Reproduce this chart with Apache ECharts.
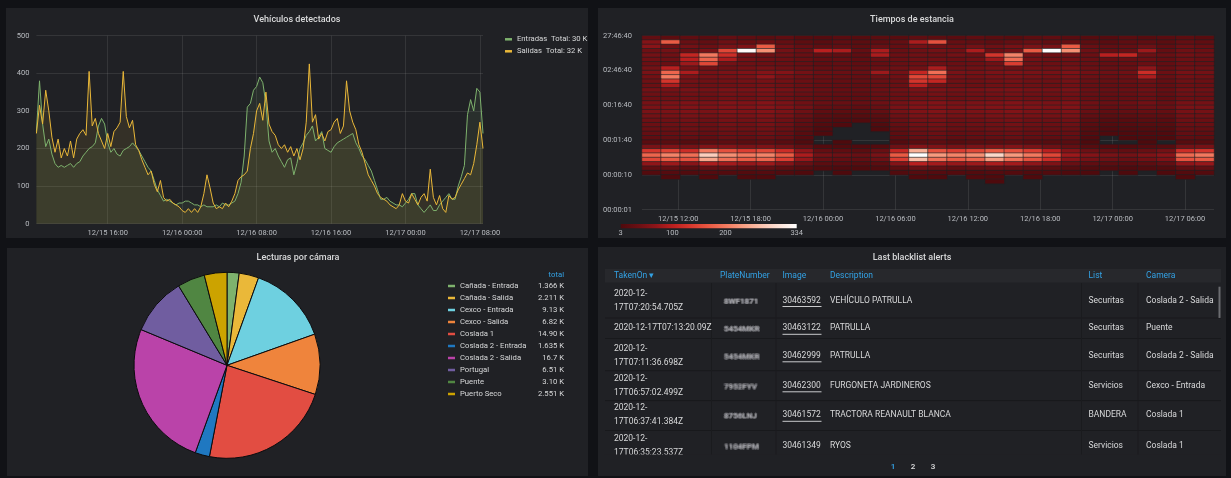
<!DOCTYPE html>
<html><head><meta charset="utf-8">
<script src="https://cdn.jsdelivr.net/npm/echarts/dist/echarts.min.js"></script>
<style>
html,body{margin:0;padding:0;background:#111216;width:1231px;height:478px;overflow:hidden}
.p{position:absolute;background:#202125}
#c{position:absolute;left:0;top:0;width:1231px;height:478px}
</style></head><body>
<div class="p" style="left:6px;top:8px;width:582px;height:230px"></div>
<div class="p" style="left:598px;top:8px;width:628px;height:230px"></div>
<div class="p" style="left:7px;top:248px;width:581px;height:228px"></div>
<div class="p" style="left:598px;top:247px;width:628px;height:229px"></div>
<div id="c"></div>
<script>
// ---------------- DATA ----------------
// Vehículos detectados: 20-minute samples from 12/15 08:20 to 12/17 08:20
const entradas = [
  // 12/15
  245,380,265,205,225,185,160,150,155,150,155,160,150,160,165,180,190,200,205,215,260,280,265,215,
  190,200,185,180,195,200,205,215,205,195,180,165,150,140,115,90,75,60,65,60,55,50,55,
  // 12/16
  55,60,60,55,50,50,45,50,45,45,45,50,45,55,50,50,55,60,80,110,180,310,320,355,
  365,390,375,320,220,190,200,180,165,150,170,175,130,160,200,215,235,245,260,220,230,245,200,195,
  190,205,215,220,225,230,235,240,215,200,180,170,155,140,115,90,65,65,70,60,55,50,50,45,
  // 12/17
  55,65,80,80,50,40,30,40,50,35,35,50,60,70,80,65,65,100,125,155,290,330,300,360,350,240
];
const salidas = [
  // 12/15
  240,315,265,355,300,230,190,225,175,200,180,220,175,225,240,250,235,405,260,280,240,220,200,240,
  205,245,255,270,405,285,255,275,210,195,170,150,130,140,105,85,115,70,60,65,55,50,45,
  // 12/16
  35,30,40,30,40,30,45,80,130,95,55,40,45,40,55,45,60,80,115,125,130,140,200,240,
  300,320,275,350,265,245,235,210,200,210,190,205,180,200,170,200,270,425,270,290,225,240,220,245,
  250,270,280,240,260,380,300,270,250,210,190,160,130,115,100,80,70,65,60,50,45,40,50,80,
  // 12/17
  60,55,80,65,50,70,80,60,145,70,50,75,40,30,75,65,70,90,105,120,135,130,160,210,270,200
];
const lineNames = ['Entradas', 'Salidas'];
const lineTotals = ['30 K', '32 K'];
const lineYTicks = [0, 100, 200, 300, 400, 500];

// Tiempos de estancia: 30 time buckets x duration buckets (8 per decade, log scale),
// rows listed from top (bucket 39: ~75000-100000 s) down to bucket 6 (~5.6-10 s)
const heatCounts = [
  [28,22,25,18,30,24,20,26,15,12, 18,14,20,16,24,22,18,26,20,15, 22,25,18,14,12,20,15,18,22,16],
  [60,170,35,28,40,32,38,30,22,18, 25,20,24,30,90,160,32,28,26,30, 35,28,30,22,18,24,26,20,30,25],
  [65,40,45,38,50,55,170,42,30,25, 28,22,35,30,45,40,38,45,40,48, 52,50,170,35,28,30,40,26,38,32],
  [40,45,38,50,150,330,220,45,38,100, 90,30,90,35,40,45,42,90,38,45, 170,334,220,40,32,35,80,30,42,38],
  [45,42,110,200,120,48,42,40,35,30, 28,25,90,38,42,40,45,40,130,210, 48,42,45,38,100,110,40,35,44,40],
  [42,40,100,180,90,45,40,38,33,28, 30,26,35,36,40,42,38,42,80,190, 45,40,42,36,32,34,38,30,40,36],
  [38,36,80,150,45,40,38,36,32,26, 28,24,30,34,38,40,36,38,42,140, 40,38,40,34,30,32,36,28,38,34],
  [45,100,48,42,40,44,46,40,36,30, 32,28,38,40,44,90,40,42,45,40, 44,42,46,38,34,36,70,32,42,40],
  [50,180,90,48,52,55,60,60,45,38, 36,34,80,45,110,190,50,48,52,55, 50,48,55,44,40,42,120,38,48,45],
  [44,200,52,46,48,50,70,48,40,35, 33,30,40,42,150,150,46,44,48,50, 46,44,50,40,36,38,90,34,44,42],
  [40,130,45,42,44,46,48,44,38,32, 30,28,36,38,130,110,42,40,44,46, 42,40,46,36,33,35,40,30,40,38],
  [38,90,42,40,42,44,46,42,36,30, 28,26,34,36,100,45,40,38,42,44, 40,38,44,34,30,32,38,28,38,36],
  [45,48,50,46,52,50,55,48,40,34, 32,30,38,42,50,52,46,48,50,52, 48,46,50,38,34,36,42,32,44,42],
  [40,42,44,40,46,44,48,42,35,30, 28,26,34,38,44,46,40,42,44,46, 42,40,44,34,30,32,38,28,40,38],
  [38,40,42,38,44,42,46,40,33,28, 26,24,32,36,42,44,38,40,42,44, 40,38,42,32,28,30,36,26,38,36],
  [48,52,55,50,58,55,60,52,42,36, 34,32,40,46,55,58,50,52,55,58, 52,50,55,42,36,38,44,34,48,46],
  [52,55,58,54,60,58,62,55,45,30, 28,26,35,50,58,60,54,56,58,60, 56,54,58,40,32,34,40,36,52,50],
  [50,52,55,50,58,55,60,52,40,24, 22,20,28,46,55,58,50,52,55,58, 52,50,55,34,26,28,32,30,48,46],
  [45,48,50,46,52,50,55,48,34,18, 15,14,20,40,50,52,46,48,50,52, 48,46,50,28,20,22,26,24,44,42],
  [40,42,45,40,48,45,50,42,28,14, 10,8,14,35,45,48,40,42,45,48, 42,40,44,22,14,16,20,18,40,38],
  [38,40,42,38,45,42,48,40,24,10, 6,0,8,30,42,45,38,40,42,45, 40,38,40,18,10,12,15,14,36,35],
  [35,36,40,35,42,40,44,36,20,6, 0,0,5,26,38,42,35,36,40,42, 36,34,36,14,6,8,10,10,32,30],
  [30,32,35,30,38,35,40,32,16,4, 0,0,0,22,34,38,30,32,35,38, 32,30,32,10,4,5,6,6,28,26],
  [26,28,30,26,34,30,35,28,12,0, 0,0,0,18,30,34,26,28,30,34, 28,26,28,6,0,3,4,4,24,22],
  [18,20,15,22,24,20,25,18,8,0, 4,0,0,12,20,24,16,20,22,24, 18,16,18,4,0,0,3,0,16,15],
  [50,55,48,58,60,52,55,45,28,10, 8,6,10,40,60,55,48,52,55,58, 50,40,30,15,10,8,12,14,45,48],
  [130,145,120,200,160,140,150,120,70,30, 25,20,35,110,250,160,140,150,170,160, 140,100,60,40,30,28,35,45,120,130],
  [180,210,190,280,220,200,210,170,90,45, 40,35,50,170,334,230,210,220,290,230, 200,150,80,60,50,45,55,65,185,200],
  [150,170,160,240,190,170,180,140,75,35, 30,28,40,140,260,190,170,180,230,190, 160,120,65,48,40,36,44,55,160,170],
  [70,80,65,90,85,75,80,60,35,20, 18,15,20,60,100,85,75,80,90,85, 70,55,35,25,20,18,22,28,70,75],
  [25,30,22,30,28,26,28,22,14,8, 6,5,8,22,35,30,26,28,30,28, 24,20,14,10,8,6,8,10,25,28],
  [10,12,8,12,10,10,12,8,5,0, 3,0,0,8,14,12,10,10,12,10, 8,8,5,4,0,3,0,4,10,10],
  [0,4,0,5,0,3,4,0,0,0, 0,0,0,0,5,4,0,6,5,0, 4,0,0,0,0,0,0,0,4,0],
  [0,0,0,0,0,0,0,0,0,0, 0,0,0,0,0,0,0,0,3,0, 0,0,0,0,0,0,0,0,0,0]
];
const heatScaleMin = 3, heatScaleMax = 334;
const heatLegendTicks = [3, 100, 200, 334];

// Lecturas por cámara (thousands)
const pieNames = ['Cañada - Entrada','Cañada - Salida','Cexco - Entrada','Cexco - Salida','Coslada 1',
  'Coslada 2 - Entrada','Coslada 2 - Salida','Portugal','Puente','Puerto Seco'];
const pieValues = [1.366, 2.211, 9.13, 6.82, 14.90, 1.635, 16.7, 6.51, 3.10, 2.551];
const pieLabels = ['1.366 K','2.211 K','9.13 K','6.82 K','14.90 K','1.635 K','16.7 K','6.51 K','3.10 K','2.551 K'];

// Last blacklist alerts
const tableHeaders = ['TakenOn \u25BE','PlateNumber','Image','Description','List','Camera'];
const takenOn = ['2020-12-17T07:20:54.705Z','2020-12-17T07:13:20.09Z','2020-12-17T07:11:36.698Z',
  '2020-12-17T06:57:02.499Z','2020-12-17T06:37:41.384Z','2020-12-17T06:35:23.537Z'];
const plates = ['8WF1871','5454MKR','5454MKR','7952FYV','8756LNJ','1104FPM'];
const images = ['30463592','30463122','30462999','30462300','30461572','30461349'];
const descriptions = ['VEHÍCULO PATRULLA','PATRULLA','PATRULLA','FURGONETA JARDINEROS','TRACTORA REANAULT BLANCA','RYOS'];
const lists = ['Securitas','Securitas','Securitas','Servicios','BANDERA','Servicios'];
const cameras = ['Coslada 2 - Salida','Puente','Coslada 2 - Salida','Cexco - Entrada','Coslada 1','Coslada 1'];
const pages = ['1','2','3'];

// ---------------- STYLE / LAYOUT ----------------
const FONT = 'Roboto';
const TXT = '#d8d9da', AXT = '#b9bcc1', BLUE = '#33a2e5';
const GRIDC = 'rgba(255,255,255,0.09)';
const pieColors = ['#7EB26D','#EAB839','#6ED0E0','#EF843C','#E24D42','#1F78C1','#BA43A9','#705DA0','#508642','#CCA300'];
const heatColors = ['#4e0a0d','#6a0f13','#8e1519','#bd201f','#d9392e','#ea5943','#f37b60','#f8a084','#fbc3ae','#fde2d7','#ffffff'];

const pad = n => String(n).padStart(2,'0');
function fmt(t){ const d=new Date(t); return pad(d.getUTCMonth()+1)+'/'+pad(d.getUTCDate())+' '+pad(d.getUTCHours())+':'+pad(d.getUTCMinutes()); }
const lineStart = Date.UTC(2020,11,15,8,20);
const lineTimes = [], lineTick = [];
for (let i=0;i<entradas.length;i++){ const t=lineStart+i*20*60000; const d=new Date(t);
  lineTimes.push(fmt(t)); lineTick.push(d.getUTCMinutes()===0 && d.getUTCHours()%8===0); }
const heatStart = Date.UTC(2020,11,15,9,0);
const heatTimes = [], heatTick = [];
for (let i=0;i<=237;i++){ const t=heatStart+i*12*60000; const d=new Date(t);
  heatTimes.push(fmt(t)); heatTick.push(d.getUTCMinutes()===0 && d.getUTCHours()%6===0); }
const heatCols = heatCounts[0].map((_,i)=>'c'+i);
const heatRows = Array.from({length:40},(_,i)=>'r'+i);
const heatData = [];
heatCounts.forEach((row,k)=>row.forEach((v,c)=>{ if(v>0) heatData.push([c, 39-k, v]); }));

function hms(s){ const h=Math.floor(s/3600), m=Math.floor((s%3600)/60), x=Math.round(s%60); return pad(h)+':'+pad(m)+':'+pad(x); }

// ---------------- GRAPHIC (titles, table, legend bits) ----------------
const G = [];
const TF = '8.5px '+FONT;
function txt(x,y,text,style,z){ G.push({type:'text', x:x, y:y, z:z||10, silent:true,
  style:Object.assign({text:text, fill:TXT, font:TF, align:'left', verticalAlign:'middle'}, style||{})}); }
function rect(x,y,w,h,fill,z){ G.push({type:'rect', z:z||5, silent:true, shape:{x:x,y:y,width:w,height:h}, style:{fill:fill}}); }
function line(x1,y1,x2,y2,stroke,z){ G.push({type:'line', z:z||6, silent:true, shape:{x1:x1,y1:y1,x2:x2,y2:y2}, style:{stroke:stroke,lineWidth:1}}); }

const titleFont = '500 9px '+FONT;
txt(297,20,'Vehículos detectados',{font:titleFont,align:'center'});
txt(912,20,'Tiempos de estancia',{font:titleFont,align:'center'});
txt(298,257.3,'Lecturas por cámara',{font:titleFont,align:'center'});
txt(912,257.3,'Last blacklist alerts',{font:titleFont,align:'center'});

// heatmap colour legend
const gx=620.7, gw=176;
G.push({type:'rect', z:5, silent:true, shape:{x:gx,y:224,width:gw,height:4.3},
  style:{fill:{type:'linear',x:0,y:0,x2:1,y2:0,colorStops:heatColors.map((c,i)=>({offset:i/(heatColors.length-1),color:c}))}}});
heatLegendTicks.forEach(v=>txt(gx+(v-heatScaleMin)/(heatScaleMax-heatScaleMin)*gw,233.5,String(v),{font:'7.5px '+FONT,fill:AXT,align:'center'}));

// pie legend header
txt(564,275,'total',{font:'7.7px '+FONT,fill:BLUE,align:'right'});

// table
const colX = [614,720,782.5,830,1088.5,1146];
rect(605,269,616,13.5,'#27282c',4);
tableHeaders.forEach((h,i)=>txt(colX[i],275.7,h,{fill:BLUE}));
const rowY = [300.5,328.3,355.8,385.8,415.3,446];
[318,338.5,370.7,400.6,430.5].forEach(y=>line(605,y,1221,y,'#18191c',3));
[711.5,776,1081.5,1138].forEach(x=>line(x,283,x,460,'#1a1b1e',3));
const blurOff = [[0,0],[-0.9,0],[0.9,0],[0,-0.9],[0,0.9],[-0.7,-0.7],[0.7,0.7],[0.7,-0.7],[-0.7,0.7]];
takenOn.forEach((t,i)=>{
  const y=rowY[i];
  if (t.length>23){ txt(colX[0],y-7,t.slice(0,8)); txt(colX[0],y+7,t.slice(8)); }
  else txt(colX[0],y,t);
  // blurred (anonymised) plate number
  blurOff.forEach(o=>txt(colX[1]+4+o[0],y+1+o[1],plates[i],{fill:'rgba(200,202,210,0.17)',font:'700 8px '+FONT}));
  txt(colX[2],y,images[i]);
  if (i<5) line(colX[2],y+6,colX[2]+39,y+6,'#c9cacc',7);
  txt(colX[3],y,descriptions[i]);
  txt(colX[4],y,lists[i]);
  txt(colX[5],y,cameras[i]);
});
rect(604,454.5,618,21,'#202125',20);
rect(1218.5,286.7,2,31.3,'rgba(200,200,205,0.45)',21);
pages.forEach((p,i)=>txt(893+i*20,466.7,p,{fill:i===0?BLUE:TXT,align:'center',font:'600 8px '+FONT},22));

// ---------------- OPTION ----------------
const axLabel = {color:AXT, fontSize:7.5, fontFamily:FONT};
const option = {
  animation:false,
  backgroundColor:'transparent',
  textStyle:{fontFamily:FONT},
  grid:[
    {left:36.4, top:35.7, width:446.6, height:188, outerBoundsMode:'none', containLabel:false},
    {left:642, top:35.7, width:572, height:174, outerBoundsMode:'none', containLabel:false}
  ],
  xAxis:[
    {type:'category', gridIndex:0, data:lineTimes, boundaryGap:false,
     axisLine:{show:false}, axisTick:{show:false, interval:(i)=>lineTick[i]},
     axisLabel:Object.assign({interval:(i)=>lineTick[i], margin:5}, axLabel),
     splitLine:{show:true, interval:(i)=>lineTick[i], lineStyle:{color:GRIDC,width:1}}},
    {type:'category', gridIndex:1, data:heatCols, show:false},
    {type:'category', gridIndex:1, data:heatTimes, boundaryGap:false, position:'bottom',
     axisLine:{show:false}, axisTick:{show:false, interval:(i)=>heatTick[i]},
     axisLabel:Object.assign({interval:(i)=>heatTick[i], margin:5}, axLabel),
     splitLine:{show:true, interval:(i)=>heatTick[i], lineStyle:{color:GRIDC,width:1}}}
  ],
  yAxis:[
    {type:'value', gridIndex:0, min:lineYTicks[0], max:lineYTicks[lineYTicks.length-1], interval:100,
     axisLine:{show:false}, axisTick:{show:false},
     axisLabel:Object.assign({margin:7}, axLabel),
     splitLine:{lineStyle:{color:GRIDC,width:1}}},
    {type:'category', gridIndex:1, data:heatRows, show:false, position:'left'},
    {type:'log', gridIndex:1, min:1, max:100000, logBase:10, position:'left',
     axisLine:{show:false}, axisTick:{show:false},
     axisLabel:Object.assign({margin:10, formatter:(v)=>hms(v)}, axLabel),
     splitLine:{show:true, lineStyle:{color:GRIDC,width:1}}, minorSplitLine:{show:false}}
  ],
  visualMap:{type:'continuous', show:false, seriesIndex:2, dimension:2, min:heatScaleMin, max:heatScaleMax, inRange:{color:heatColors}},
  legend:[
    {orient:'vertical', left:505, top:34.8, padding:0, itemWidth:7, itemHeight:2.5, itemGap:3, icon:'rect',
     selectedMode:false, data:lineNames, itemStyle:{borderWidth:0},
     formatter:(n)=>n+'  Total: '+lineTotals[lineNames.indexOf(n)],
     textStyle:{color:TXT, fontSize:7.7, lineHeight:9, fontFamily:FONT}},
    {orient:'vertical', left:448, top:281.5, padding:0, itemWidth:7, itemHeight:2.5, itemGap:3, icon:'rect',
     selectedMode:false, data:pieNames, itemStyle:{borderWidth:0},
     formatter:(n)=>'{n|'+n+'}{v|'+pieLabels[pieNames.indexOf(n)]+'}',
     textStyle:{color:TXT, fontSize:7.7, lineHeight:9, fontFamily:FONT,
       rich:{n:{width:70, fontSize:7.7, lineHeight:9, color:TXT, fontFamily:FONT},
             v:{width:34, align:'right', fontSize:7.7, lineHeight:9, color:TXT, fontFamily:FONT}}}}
  ],
  series:[
    {name:lineNames[0], type:'line', xAxisIndex:0, yAxisIndex:0, data:entradas, symbol:'none', smooth:false,
     color:'#7eb26d', lineStyle:{width:1, color:'#7eb26d'}, areaStyle:{color:'#7eb26d', opacity:0.1}, silent:true},
    {name:lineNames[1], type:'line', xAxisIndex:0, yAxisIndex:0, data:salidas, symbol:'none', smooth:false,
     color:'#eab839', lineStyle:{width:1, color:'#eab839'}, areaStyle:{color:'#eab839', opacity:0.1}, silent:true},
    {type:'heatmap', xAxisIndex:1, yAxisIndex:1, data:heatData, silent:true, progressive:0,
     itemStyle:{borderColor:'#202125', borderWidth:0.6}},
    {type:'pie', center:[227,365.3], radius:93, startAngle:90, clockwise:true, silent:true,
     label:{show:false}, labelLine:{show:false},
     itemStyle:{borderColor:'#0c0c0e', borderWidth:1},
     data:pieNames.map((n,i)=>({name:n, value:pieValues[i], itemStyle:{color:pieColors[i]}}))}
  ],
  graphic:G
};
const chart = echarts.init(document.getElementById('c'), null, {renderer:'canvas'});
chart.setOption(option);
</script>
</body></html>
